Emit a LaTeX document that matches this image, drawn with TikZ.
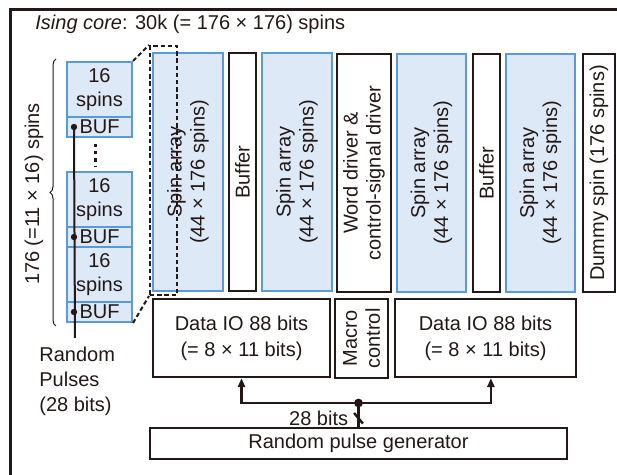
\documentclass[tikz,border=0pt]{standalone}
\usepackage{fontspec}
\setmainfont{Liberation Sans}
\usetikzlibrary{arrows.meta,decorations.pathreplacing,positioning}
\definecolor{inkDark}{RGB}{35,24,21}
\definecolor{arrBlue}{RGB}{91,155,213}
\definecolor{arrFill}{RGB}{221,233,246}
\tikzset{
  spinarr/.style={draw=arrBlue,fill=arrFill,line width=1pt,inner sep=0pt,text=inkDark},
  blk/.style={draw=inkDark,fill=white,line width=1.2pt,inner sep=0pt,text=inkDark},
  vlab/.style={rotate=90,align=center,font=\fontsize{10}{11.5}\selectfont},
  wire/.style={draw=inkDark,line width=1.3pt},
  zoomline/.style={draw=inkDark,line width=1pt,dash pattern=on 2.2pt off 1.4pt}
}
\begin{document}
\begin{tikzpicture}[x=0.5pt,y=-0.5pt,font=\fontsize{10}{12}\selectfont,text=inkDark]
  \useasboundingbox (0,0) rectangle (617,475);
  % outer frame (only left and top visible)
  \draw[draw=inkDark,line width=1.5pt] (10,475) -- (10,10) -- (617,10);
  \node[anchor=west,inner sep=0pt] (title) at (35,24) {\textit{Ising core}: 30k (= 176 × 176) spins};

  % column of 16-spin blocks
  \node[spinarr,minimum width=32.5pt,minimum height=27.5pt,align=center] (s1) at (99.5,89.5) {16\\spins};
  \node[spinarr,minimum width=32.5pt,minimum height=10pt] (b1) at (99.5,127) {BUF};
  \node[spinarr,minimum width=32.5pt,minimum height=27.5pt,align=center] (s2) at (99.5,199.5) {16\\spins};
  \node[spinarr,minimum width=32.5pt,minimum height=10pt] (b2) at (99.5,237) {BUF};
  \node[spinarr,minimum width=32.5pt,minimum height=27.5pt,align=center] (s3) at (99.5,274.5) {16\\spins};
  \node[spinarr,minimum width=32.5pt,minimum height=10pt] (b3) at (99.5,312) {BUF};
  \draw[draw=inkDark,line width=1.6pt,dash pattern=on 1.6pt off 2pt,shorten <=3pt,shorten >=2pt] ([xshift=-2pt]b1.south) -- ([xshift=-2pt]s2.north);

  % random pulse line
  \coordinate (rp) at (75,338);
  \draw[wire,line width=1pt] ([xshift=4pt]b1.west) -- (rp);
  \foreach \b in {b1,b2,b3}
    \fill[inkDark] ([xshift=4pt]\b.west) circle (1.6pt);
  \node[anchor=north west,align=left,font=\fontsize{10}{12.5}\selectfont,inner sep=0pt] (rplab) at (39,347) {Random\\Pulses\\(28 bits)};

  % brace
  \draw[draw=inkDark,line width=0.5pt,decorate,decoration={brace,amplitude=3pt}]
    ([xshift=-5pt,yshift=-1.5pt]b3.south west) -- ([xshift=-5pt,yshift=1pt]s1.north west);
  \node[rotate=90] (bracelab) at (34,194) {176 (=11 × 16) spins};

  % arrays and drivers
  \node[spinarr,minimum width=35pt,minimum height=119pt] (sa1) at (188,172) {};
  \node[vlab] at (sa1) {Spin array\\(44 × 176 spins)};
  \node[blk,minimum width=13.5pt,minimum height=119pt] (buf1) at (242.5,172) {};
  \node[vlab] at (buf1) {Buffer};
  \node[spinarr,minimum width=35pt,minimum height=119pt] (sa2) at (297,172) {};
  \node[vlab] at (sa2) {Spin array\\(44 × 176 spins)};
  \node[blk,minimum width=27pt,minimum height=119pt] (wd) at (364,173) {};
  \node[vlab] at (wd) {Word driver \&\\control-signal driver};
  \node[spinarr,minimum width=34.5pt,minimum height=119pt] (sa3) at (431.5,173) {};
  \node[vlab] at (sa3) {Spin array\\(44 × 176 spins)};
  \node[blk,minimum width=13.5pt,minimum height=119pt] (buf2) at (486.5,173) {};
  \node[vlab] at (buf2) {Buffer};
  \node[spinarr,minimum width=34.5pt,minimum height=119pt] (sa4) at (540.5,173) {};
  \node[vlab] at (sa4) {Spin array\\(44 × 176 spins)};
  \node[blk,minimum width=16pt,minimum height=119pt] (dummy) at (599,173) {};
  \node[vlab] at (dummy) {Dummy spin (176 spins)};

  % zoom outline
  \node[zoomline,minimum width=13.5pt,minimum height=124.5pt,inner sep=0pt] (zoom) at (163.5,170.5) {};
  \draw[zoomline] (s1.north east) -- (zoom.north west);
  \draw[zoomline] (b3.south east) -- (zoom.south west);

  % lower row
  \node[blk,minimum width=88.5pt,minimum height=39pt,align=center,font=\fontsize{10}{13}\selectfont] (io1) at (241.5,338) {Data IO 88 bits\\(= 8 × 11 bits)};
  \node[blk,minimum width=26.5pt,minimum height=39.5pt] (mc) at (361.5,338.5) {};
  \node[vlab] at (mc) {Macro\\control};
  \node[blk,minimum width=90.5pt,minimum height=39pt,align=center,font=\fontsize{10}{13}\selectfont] (io2) at (485.5,338) {Data IO 88 bits\\(= 8 × 11 bits)};
  \node[blk,minimum width=208.5pt,minimum height=15.5pt] (gen) at (358.5,443.5) {Random pulse generator};

  % bus
  \coordinate (jn) at (358.5,403);
  \draw[wire,-{Triangle[width=3.6pt,length=4.5pt]}] (jn) -| (io1.south);
  \draw[wire,-{Triangle[width=3.6pt,length=4.5pt]}] (jn) -| ([xshift=2.7pt]io2.south);
  \draw[wire] (gen.north) -- (jn);
  \fill[inkDark] (jn) circle (2.2pt);
  \coordinate (cut) at (358.5,418);
  \draw[draw=inkDark,line width=1.2pt] ([xshift=-2.2pt,yshift=2.5pt]cut) -- ([xshift=2.2pt,yshift=-2.8pt]cut);
  \node[anchor=east,inner sep=0pt] (buslab) at ([xshift=-5pt]cut) {28 bits};
\end{tikzpicture}
\end{document}
